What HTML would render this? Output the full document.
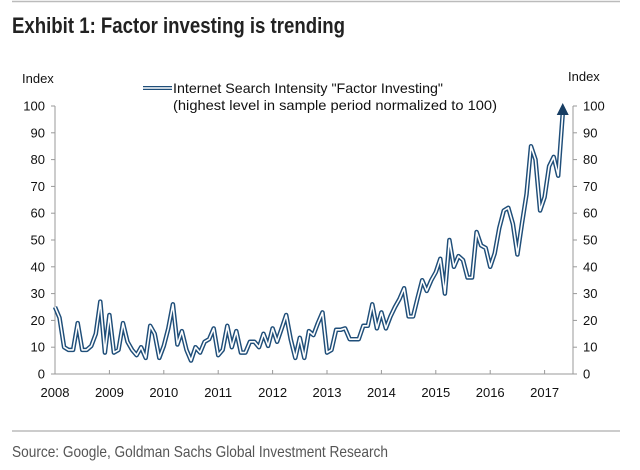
<!DOCTYPE html>
<html><head><meta charset="utf-8"><style>
html,body{margin:0;padding:0;background:#fff;width:640px;height:470px;overflow:hidden}
svg text{font-family:"Liberation Sans",Arial,sans-serif}
</style></head><body>
<svg id="chart" width="640" height="470" viewBox="0 0 640 470">
<line x1="12" y1="1.5" x2="620" y2="1.5" stroke="#bbb" stroke-width="1.5"/>
<text x="12" y="33" font-size="22" font-weight="bold" fill="#222" textLength="333" lengthAdjust="spacingAndGlyphs">Exhibit 1: Factor investing is trending</text>
<text x="22" y="83" font-size="13" fill="#111">Index</text>
<text x="568" y="81" font-size="13" fill="#111">Index</text>
<g>
<line x1="143" y1="88" x2="172" y2="88" stroke="#1f4e79" stroke-width="4"/>
<line x1="143" y1="88" x2="172" y2="88" stroke="#fff" stroke-width="1.5"/>
<text x="173" y="93" font-size="14" fill="#111" textLength="270" lengthAdjust="spacingAndGlyphs">Internet Search Intensity "Factor Investing"</text>
<text x="173" y="110" font-size="14" fill="#111" textLength="324" lengthAdjust="spacingAndGlyphs">(highest level in sample period normalized to 100)</text>
</g>
<g id="axes"></g>
<g id="series"></g>
<line x1="12" y1="431" x2="620" y2="431" stroke="#bbb" stroke-width="1.5"/>
<text x="12" y="457" font-size="16" fill="#555" textLength="376" lengthAdjust="spacingAndGlyphs">Source: Google, Goldman Sachs Global Investment Research</text>
</svg>
<script>
const years = ["2008","2009","2010","2011","2012","2013","2014","2015","2016","2017"];
const yTicks = [0,10,20,30,40,50,60,70,80,90,100];
const searchIndex = [25,21,10,9,9,19,9,9,10.5,15,27,8,22,8,9,19,12,9,7,10,6,18,15,6,10.5,17,26,11,16,9,5,10,8,12,13,17,7,9,18,10,16,8,8,12,12,10,15,10.5,17,12,17,22,13,6,13.5,6,16,14.5,19,23,8,9,16.5,16.5,17,13,13,13,18,18,26,17,23,17,21.5,25,28,32,21.5,21.5,28.5,35,31,35,38,43,30,50,40,44,42.5,36,36,53,48,47,40,45,54.5,61,62,56,44.6,56,67,85,80,61,66,77.5,81,74,97];
const NS="http://www.w3.org/2000/svg";
const X0=55, X1=573, Y0=374, Y100=106, PX_PER_YEAR=54.4;
const xs = m => X0 + m*PX_PER_YEAR/12;
const ys = v => Y0 - (v/100)*(Y0-Y100);
function mk(tag, attrs, parent){const e=document.createElementNS(NS,tag);for(const k in attrs)e.setAttribute(k,attrs[k]);parent.appendChild(e);return e;}
const ax=document.getElementById('axes');
let e;
e=mk('line',{x1:X0,y1:Y0,x2:X1,y2:Y0,stroke:'#999'},ax);


e=mk('line',{x1:X0,y1:Y100,x2:X0,y2:Y0,stroke:'#999'},ax);


e=mk('line',{x1:X1,y1:Y100,x2:X1,y2:Y0,stroke:'#999'},ax);


yTicks.forEach(t=>{
  const y=ys(t);
  mk('line',{x1:X0-4,y1:y,x2:X0,y2:y,stroke:'#999'},ax);
  mk('line',{x1:X1,y1:y,x2:X1+4,y2:y,stroke:'#999'},ax);
  let l=mk('text',{x:45,y:y+4.5,'font-size':13,'text-anchor':'end',fill:'#111'},ax);l.textContent=t;
  
  
  let r=mk('text',{x:583,y:y+4.5,'font-size':13,fill:'#111'},ax);r.textContent=t;
  
  
});
years.forEach((yr,i)=>{
  const x=xs(i*12);
  mk('line',{x1:x,y1:Y0,x2:x,y2:Y0-4,stroke:'#999'},ax);
  let t=mk('text',{x:x,y:397,'font-size':13,'text-anchor':'middle',fill:'#111'},ax);t.textContent=yr;
  
  
});
const sg=document.getElementById('series');
const pts=searchIndex.map((v,i)=>xs(i).toFixed(1)+','+ys(v).toFixed(1)).join(' ');
let outer=mk('polyline',{points:pts,fill:'none',stroke:'#1f4e79','stroke-width':4.5,'stroke-linejoin':'round'},sg);


mk('polyline',{points:pts,fill:'none',stroke:'#fff','stroke-width':1.6,'stroke-linejoin':'round'},sg);
const lx=xs(searchIndex.length-1), ly=ys(searchIndex[searchIndex.length-1]);
let arr=mk('polygon',{points:`${lx-6},${ly+1} ${lx+6},${ly+1} ${lx},${ly-11}`,fill:'#173d63'},sg);


</script>
</body></html>
